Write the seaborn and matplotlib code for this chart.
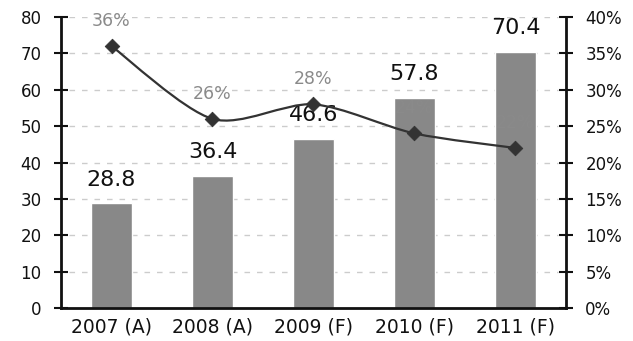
import matplotlib
matplotlib.use("Agg")
import matplotlib.pyplot as plt
import seaborn as sns
import pandas as pd
import numpy as np
from matplotlib.path import Path
from matplotlib.patches import PathPatch

categories = ["2007 (A)", "2008 (A)", "2009 (F)", "2010 (F)", "2011 (F)"]
bar_values = [28.8, 36.4, 46.6, 57.8, 70.4]
pct_values = [36, 26, 28, 24, 22]
left_ticks = [0, 10, 20, 30, 40, 50, 60, 70, 80]
right_ticks = [0, 5, 10, 15, 20, 25, 30, 35, 40]

sns.set_style("white")
plt.rcParams['font.family'] = ['DejaVu Sans']

df = pd.DataFrame({"cat": categories, "val": bar_values})

fig = plt.figure(figsize=(6.33, 3.41), dpi=100)
ax = fig.add_axes([0.0964, 0.0968, 0.894 - 0.0964, 0.950 - 0.0968])
sns.barplot(data=df, x="cat", y="val", ax=ax, color="#888888", width=0.4,
            saturation=1, zorder=2)
ax.set_xlim(-0.5, len(categories) - 0.5)
ax.set_ylim(0, 80)
ax.set_yticks(left_ticks)
ax.set_xlabel("")
ax.set_ylabel("")

# grid
for t in left_ticks[1:]:
    ax.axhline(t, xmin=0.015, xmax=0.985, color="#cccccc", lw=1, ls=(0, (4, 5)), zorder=1)

# x ticks at boundaries, labels at centers
ax.set_xticks(np.arange(len(categories) + 1) - 0.5)
ax.set_xticklabels([])
ax.set_xticks(np.arange(len(categories)), minor=True)
ax.set_xticklabels(categories, minor=True)
ax.tick_params(axis="x", which="minor", length=0, labelsize=13.5, colors="#111111", pad=7)
ax.tick_params(axis="x", which="major", direction="inout", length=8, width=1.5, color="#111111")
ax.tick_params(axis="y", direction="inout", length=10, width=1.5, labelsize=12,
               colors="#111111", color="#111111", pad=9)

for s in ["top", "right"]:
    ax.spines[s].set_visible(False)
for s in ["left", "bottom"]:
    ax.spines[s].set_color("#111111")
    ax.spines[s].set_linewidth(2)

for i, v in enumerate(bar_values):
    ax.annotate(f"{v}", (i, v), xytext=(0, 17), textcoords="offset points",
                ha="center", va="center", fontsize=16, color="#111111")

ax2 = ax.twinx()
ax2.set_ylim(0, 40)
ax2.set_yticks(right_ticks)
ax2.set_yticklabels([f"{t}%" for t in right_ticks])
ax2.tick_params(axis="y", direction="inout", length=10, width=1.5, labelsize=12,
                colors="#111111", color="#111111", pad=9)
for s in ["top", "left", "bottom"]:
    ax2.spines[s].set_visible(False)
ax2.spines["right"].set_color("#111111")
ax2.spines["right"].set_linewidth(2)

# smoothed line through data points (Catmull-Rom -> Bezier)
xs = np.arange(len(pct_values), dtype=float)
ys = np.array(pct_values, dtype=float)
P = np.column_stack([xs, ys])
verts = [P[0]]
codes = [Path.MOVETO]
n = len(P)
for i in range(n - 1):
    p0 = P[i - 1] if i > 0 else P[i]
    p1 = P[i]
    p2 = P[i + 1]
    p3 = P[i + 2] if i + 2 < n else P[i + 1]
    c1 = p1 + (p2 - p0) / 7
    c2 = p2 - (p3 - p1) / 7
    verts += [c1, c2, p2]
    codes += [Path.CURVE4] * 3
ax2.add_patch(PathPatch(Path(verts, codes), fill=False, ec="#333333", lw=1.6, zorder=3))
sns.scatterplot(x=xs, y=ys, ax=ax2, marker="D", s=55, color="#333333",
                edgecolor="#333333", zorder=4, legend=False)
for i, v in enumerate(pct_values):
    ax2.annotate(f"{v}%", (i, v), xytext=(0, 18), textcoords="offset points",
                 ha="center", va="center", fontsize=12.5, color="#8a8a8a")

fig.savefig("out.png", dpi=100)
